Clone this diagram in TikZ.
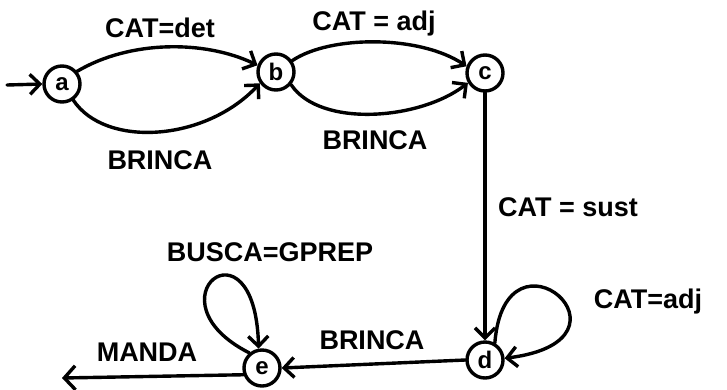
\documentclass[tikz,border=0pt]{standalone}
\usepackage{fontspec}
\setmainfont{Liberation Sans}
\usetikzlibrary{arrows.meta}
\begin{document}
\begin{tikzpicture}[x=1pt,y=-1pt,
  line width=3.4pt, line cap=round, line join=round,
  st/.style={circle, draw, line width=3.4pt, minimum size=36pt, inner sep=0pt, font=\fontsize{24}{26}\selectfont\bfseries},
  lbl/.style={font=\fontsize{27}{29}\selectfont\bfseries, inner sep=0pt},
  tip/.style={-{Straight Barb[length=10pt,width=20pt,line width=3.4pt]}},
  otip/.style={-{Straight Barb[length=11pt,width=24pt,line width=3.4pt]}}]
\useasboundingbox (0,0) rectangle (727,389);
% states
\node[st] (a) at (62,84) {a};
\node[st] (b) at (276,72) {b};
\node[st] (c) at (485,73) {c};
\node[st] (d) at (485,360) {d};
\node[st] (e) at (262,368) {e};
\coordinate (in) at (7,85);
\coordinate (out) at (62,378);
% start
\draw[tip] (in) -- (a.west);
% a -> b
\draw[tip] (a.40) .. controls (130,40) and (205,40) .. (b.160);
\draw[tip] (a.-55) .. controls (105,148) and (205,142) .. (b.-145);
\node[lbl] (l1) at (160,28) {CAT=det};
\node[lbl] (l2) at (160,160) {BRINCA};
% b -> c
\draw[tip] (b.35) .. controls (330,35) and (420,35) .. (c.160);
\draw[tip] (b.-40) .. controls (320,128) and (420,120) .. (c.-150);
\node[lbl] (l3) at (374,24) {CAT = adj};
\node[lbl] (l4) at (375,140) {BRINCA};
% c -> d
\draw[tip] (c.south) -- (d.north);
\node[lbl] (l5) at (568,207) {CAT = sust};
% loop d
\draw[tip] (d.60) .. controls (505,215) and (650,340) .. (d.5);
\node[lbl] (l6) at (648,302) {CAT=adj};
% d -> e
\draw[tip] (d.west) -- (e.east);
\node[lbl] (l7) at (372,340) {BRINCA};
% loop e
\draw[tip] (e.130) .. controls (145,300) and (255,212) .. (e.100);
\node[lbl] (l8) at (270,252) {BUSCA=GPREP};
% e -> out
\draw[otip] (e.200) -- (out);
\node[lbl] (l9) at (147,352) {MANDA};
\end{tikzpicture}
\end{document}
